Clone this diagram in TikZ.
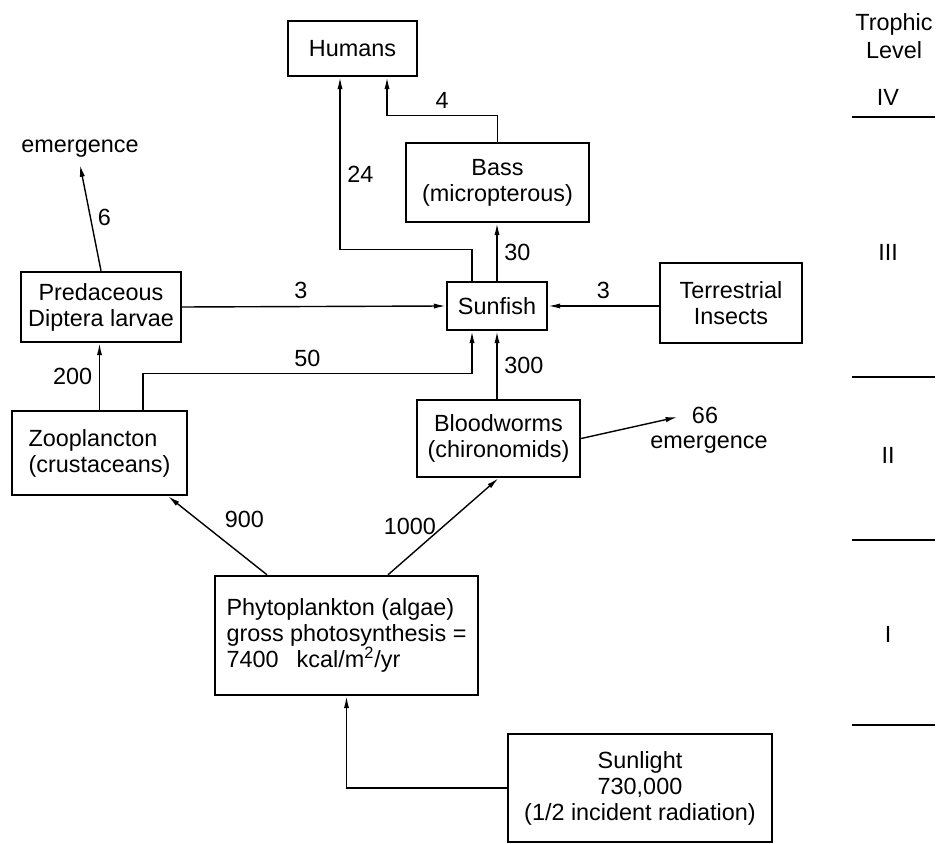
\documentclass[tikz,border=0pt]{standalone}
\usepackage{fontspec}
\setmainfont{Liberation Sans}
\usetikzlibrary{arrows.meta}

\begin{document}
\begin{tikzpicture}[x=0.5pt, y=-0.5pt, font=\fontsize{11.7}{13}\selectfont,
        >={Latex[length=6pt,width=2.6pt]},
        box/.style={draw, line width=1.2pt, align=center, inner sep=0pt},
        flow/.style={->, line width=0.7pt},
        lvl/.style={line width=1.3pt}]
    \useasboundingbox (0,0) rectangle (938,844);
    % the boxes
    \node[box, minimum width=64.5pt, minimum height=27.5pt] (humans) at (352.5,48.5) {Humans};
    \node[box, minimum width=91.5pt, minimum height=39.5pt] (bass) at (497.5,182.5) {Bass\\(micropterous)};
    \node[box, minimum width=80pt, minimum height=35pt] (pred) at (101,307) {Predaceous\\Diptera larvae};
    \node[box, minimum width=50pt, minimum height=24pt] (sunfish) at (497,306) {Sunfish};
    \node[box, minimum width=71pt, minimum height=40pt] (terr) at (731,303) {Terrestrial\\Insects};
    \node[box, minimum width=87.5pt, minimum height=42pt, align=left] (zoo) at (99.5,453) {Zooplancton\\(crustaceans)};
    \node[box, minimum width=81.5pt, minimum height=38.5pt] (blood) at (498.5,438.5) {Bloodworms\\(chironomids)};
    \node[box, minimum width=131.5pt, minimum height=59.5pt, align=left] (phyto) at (346.5,635.5)
        {Phytoplankton (algae)\\gross photosynthesis =\\7400\enspace\ kcal/m\textsuperscript{2}/yr};
    \node[box, minimum width=132pt, minimum height=54pt] (sun) at (640,788) {Sunlight\\730,000\\(1/2 incident radiation)};
    \node (emerg1) at (80,149) {emergence};
    \node[inner sep=1pt] (lab66) at (705,415) {66};
    \node[inner sep=1pt] (emerg2) at (709,445) {emergence};

    % the flows
    \draw[flow] (sun.west) -| (phyto.south);
    \draw[flow] ([xshift=-39.75pt]phyto.north) -- ([xshift=34.25pt]zoo.south) node[midway, above right] (l900) {900};
    \draw[flow] ([xshift=20.75pt]phyto.north) -- (blood.south) node[midway, left] (l1000) {1000};
    \draw[flow] (blood.east) -- ([xshift=-6pt,yshift=-1pt]lab66.west);
    \draw[flow] (zoo.north) -- (zoo.north |- pred.south) node[midway, left] (l200) {200};
    \draw[flow] ([xshift=21.75pt]zoo.north) -- ++(0,-36) -| ([xshift=-12.5pt]sunfish.south) node[pos=0.25, above] (l50) {50};
    \draw[flow] (sunfish.south |- blood.north) -- (sunfish.south) node[midway, right] (l300) {300};
    \draw[flow] (pred.north) -- (emerg1.south) node[midway, right] (l6) {6};
    \draw[flow] (pred.east) -- (sunfish.west) node[pos=0.45, above] (l3a) {3};
    \draw[flow] (sunfish.east -| terr.west) -- (sunfish.east) node[midway, above] (l3b) {3};
    \draw[flow] (sunfish.north) -- (sunfish.north |- bass.south) node[midway, right] (l30) {30};
    \draw[flow] ([xshift=-12.5pt]sunfish.north) -- ++(0,-31) -| ([xshift=-6.25pt]humans.south) node[pos=0.72, right] (l24) {24};
    \draw[flow] (bass.north) -- ++(0,-26) -| ([xshift=17.25pt]humans.south) node[pos=0.25, above] (l4) {4};

    % trophic levels
    \node[align=center, font=\fontsize{11.7}{14}\selectfont] (trophic) at (894,36) {Trophic\\Level};
    \foreach \yy in {117,377,540,725}
        \draw[lvl] (852,\yy) -- (935,\yy);
    \node (lvIV) at (888,97) {IV};
    \node (lvIII) at (888,252) {III};
    \node (lvII) at (888,455) {II};
    \node (lvI) at (888,634) {I};
\end{tikzpicture}
\end{document}
